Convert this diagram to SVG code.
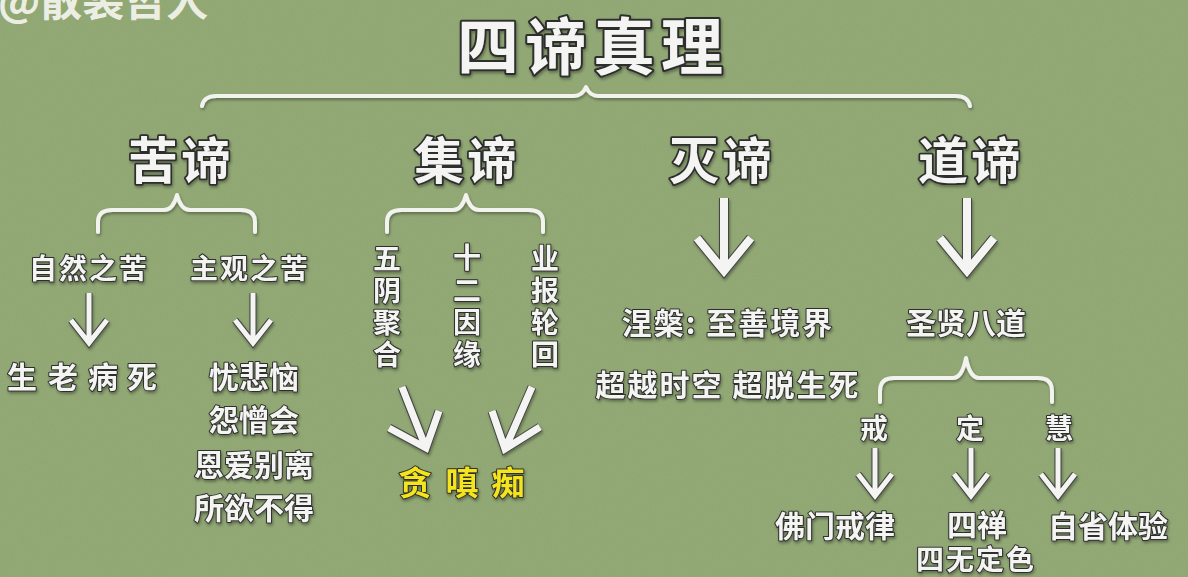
<svg xmlns="http://www.w3.org/2000/svg" width="1188" height="577" viewBox="0 0 1188 577">
<defs>
<style>
.t{font-family:'Noto Sans CJK SC','Noto Sans',sans-serif;font-weight:700;fill:#f4f4f2;stroke:#2e2e2e;stroke-width:2;paint-order:stroke;stroke-linejoin:round;text-anchor:middle;dominant-baseline:central}
.title{font-size:62px;stroke-width:4;letter-spacing:6px}
.h{font-size:50px;stroke-width:3.5px;letter-spacing:3px}
.s{font-size:28px}
.m{font-size:30px}
.ls{letter-spacing:2px}
.yl{fill:#f3e41c;font-size:33px}
.wm{font-family:'Noto Sans CJK SC',sans-serif;font-weight:700;font-size:42px;fill:#eceee4}
.br{fill:none;stroke:#f2f2ef;stroke-width:4;stroke-linecap:round;stroke-linejoin:round}
.ao{fill:none;stroke:#444;stroke-linejoin:miter;stroke-miterlimit:10}
.a{fill:none;stroke:#f4f4f2;stroke-linejoin:miter;stroke-miterlimit:10}
</style>
<filter id="sh" x="-10%" y="-10%" width="120%" height="130%">
<feDropShadow dx="1" dy="2" stdDeviation="1.5" flood-color="#000" flood-opacity="0.35"/>
</filter>
<filter id="noise">
<feTurbulence type="fractalNoise" baseFrequency="0.9" numOctaves="2" seed="3"/>
<feColorMatrix type="matrix" values="0 0 0 0 1  0 0 0 0 1  0 0 0 0 1  0 0 0 0.07 0"/>
</filter>
</defs>
<rect width="1188" height="577" fill="#8da570"/>
<rect width="1188" height="577" filter="url(#noise)"/>
<text class="wm" x="-2" y="16">@散装哲人</text>

<g id="connectors" filter="url(#sh)">
<path class="br" d="M202,106 Q204,96 216,96 L574,96 Q582,96 586,87 Q590,96 598,96 L956,96 Q968,96 970,106"/>
<path class="br" d="M98,232 L98,222 Q98,210 112,210 L164,210 Q173,210 177,195 Q181,210 190,210 L241,210 Q255,210 255,222 L255,232"/>
<path class="br" d="M387,232 L387,222 Q387,210 401,210 L453,210 Q462,210 466,195 Q470,210 479,210 L529,210 Q543,210 543,222 L543,232"/>
<path class="br" d="M880,402 L880,391 Q880,378 894,378 L953,378 Q962,378 966,358 Q970,378 979,378 L1038,378 Q1052,378 1052,391 L1052,402"/>
<g id="arrows">
<path class="ao" stroke-width="7" d="M89,293 V343 M71,320 L89,343 L107,320"/>
<path class="a" stroke-width="5" d="M89,293 V343 M71,320 L89,343 L107,320"/>
<path class="ao" stroke-width="7" d="M253,293 V343 M235,320 L253,343 L271,320"/>
<path class="a" stroke-width="5" d="M253,293 V343 M235,320 L253,343 L271,320"/>
<path class="ao" stroke-width="9" d="M402,387 L426,448 M389,428 L426,448 L439,411"/>
<path class="a" stroke-width="7" d="M402,387 L426,448 M389,428 L426,448 L439,411"/>
<path class="ao" stroke-width="9" d="M532,387 L505,449 M492,411 L505,449 L540,427"/>
<path class="a" stroke-width="7" d="M532,387 L505,449 M492,411 L505,449 L540,427"/>
<path class="ao" stroke-width="10" d="M724,198 V271 M697,238 L724,271 L751,238"/>
<path class="a" stroke-width="8" d="M724,198 V271 M697,238 L724,271 L751,238"/>
<path class="ao" stroke-width="10" d="M967,198 V271 M940,238 L967,271 L994,238"/>
<path class="a" stroke-width="8" d="M967,198 V271 M940,238 L967,271 L994,238"/>
<path class="ao" stroke-width="7" d="M875,448 V496 M858,474 L875,496 L892,474"/>
<path class="a" stroke-width="5" d="M875,448 V496 M858,474 L875,496 L892,474"/>
<path class="ao" stroke-width="7" d="M971,448 V496 M954,474 L971,496 L988,474"/>
<path class="a" stroke-width="5" d="M971,448 V496 M954,474 L971,496 L988,474"/>
<path class="ao" stroke-width="7" d="M1058,448 V496 M1041,474 L1058,496 L1075,474"/>
<path class="a" stroke-width="5" d="M1058,448 V496 M1041,474 L1058,496 L1075,474"/>
</g>
</g>

<g filter="url(#sh)">
<g id="title"><text class="t title" x="593" y="43">四谛真理</text></g>
<g id="kudi"><text class="t h" x="181" y="157">苦谛</text></g>
<g id="jidi"><text class="t h" x="467" y="157">集谛</text></g>
<g id="miedi"><text class="t h" x="722" y="157">灭谛</text></g>
<g id="daodi"><text class="t h" x="971" y="157">道谛</text></g>

<g id="ziran"><text class="t s ls" x="89" y="267">自然之苦</text></g>
<g id="zhuguan"><text class="t s ls" x="250" y="267">主观之苦</text></g>
<g id="shenglao"><text class="t m" x="22 63 103 142" y="375">生老病死</text></g>
<g id="youbei">
<text class="t m" x="254" y="375">忧悲恼</text>
<text class="t m" x="254" y="418">怨憎会</text>
<text class="t m" x="254" y="463">恩爱别离</text>
<text class="t m" x="254" y="506">所欲不得</text>
</g>

<g id="wuyin"><text class="t s" x="387 387 387 387" y="257 289 321 353">五阴聚合</text></g>
<g id="shier"><text class="t s" x="467 467 467 467" y="256 289 321 353">十二因缘</text></g>
<g id="yebao"><text class="t s" x="545 545 545 545" y="257 289 321 353">业报轮回</text></g>
<g id="tanchen"><text class="t yl" x="415 462 508" y="481">贪嗔痴</text></g>

<g id="niepan"><text class="t m ls" x="728" y="321">涅槃: 至善境界</text></g>
<g id="chaoyue"><text class="t m ls" x="728" y="383">超越时空 超脱生死</text></g>

<g id="shengxian"><text class="t m" x="966" y="321">圣贤八道</text></g>
<g id="jie"><text class="t s" x="874" y="427">戒</text></g>
<g id="ding"><text class="t s" x="970" y="427">定</text></g>
<g id="hui"><text class="t s" x="1059" y="427">慧</text></g>
<g id="fomen"><text class="t m" x="835" y="524">佛门戒律</text></g>
<g id="sichan"><text class="t m" x="977" y="523">四禅</text></g>
<g id="zixing"><text class="t m" x="1108" y="524">自省体验</text></g>
<g id="siwu"><text class="t s ls" x="976" y="558">四无定色</text></g>
</g>
</svg>
